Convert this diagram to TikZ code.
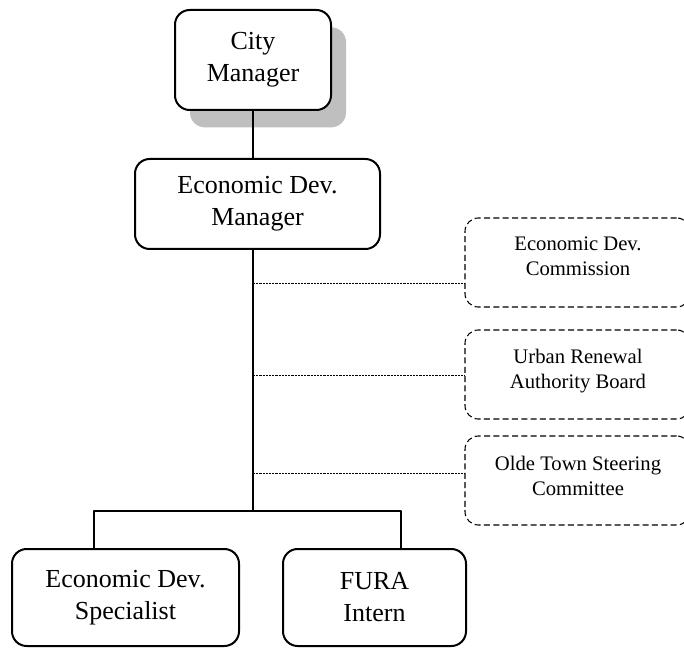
\documentclass[tikz,border=0pt]{standalone}
\usepackage{fontspec}
\setmainfont{Liberation Serif}
\usetikzlibrary{shadows}

\begin{document}
\begin{tikzpicture}[x=0.75pt, y=-0.75pt, line join=round,
    puesto/.style={draw, line width=1.5pt, rounded corners=11pt, align=center,
        fill=white, font=\fontsize{19.5}{24}\selectfont},
    comite/.style={draw, line width=0.8pt, dash pattern=on 4.5pt off 2.5pt,
        rounded corners=10pt, minimum width=168.75pt, minimum height=66.75pt},
    nota/.style={align=center, font=\fontsize{15.5}{18.5}\selectfont},
    enlace/.style={line width=1pt},
    apoyo/.style={line width=0.6pt, dash pattern=on 1.6pt off 0.8pt}]

    \clip (0,0) rectangle (684,648);

    % Puestos principales
    \node[puesto, minimum width=117pt, minimum height=75pt,
        drop shadow={shadow xshift=11.25pt, shadow yshift=-13pt, fill=black!25, opacity=1}]
        (cm) at (253,60) {City\\Manager};
    \node[puesto, minimum width=183.75pt, minimum height=67.5pt]
        (edm) at (257.5,204) {Economic Dev.\\Manager};

    % Comisiones y juntas (asesoras)
    \node[comite] (edc) at (577.5,262.5) {};
    \node[nota] (edct) at (578,256) {Economic Dev.\\Commission};
    \node[comite] (ura) at (577.5,374.5) {};
    \node[nota] (urat) at (578,371) {Urban Renewal\\Authority Board};
    \node[comite] (ots) at (577.5,480.5) {};
    \node[nota] (otst) at (578,476) {Olde Town Steering\\Committee};

    % Personal
    \node[puesto, minimum width=170.25pt, minimum height=72.75pt]
        (eds) at (125.5,597.5) {Economic Dev.\\Specialist};
    \node[puesto, minimum width=137.25pt, minimum height=72.75pt]
        (fura) at (374.5,597.5) {FURA\\Intern};

    % Línea de mando
    \coordinate (bus) at (253,511);
    \coordinate (izq) at (94,511);
    \coordinate (der) at (401,511);
    \draw[enlace] (cm.south) -- (cm.south |- edm.north);
    \draw[enlace] (cm.south |- edm.south) -- (bus);
    \draw[enlace] (izq |- eds.north) -- (izq) -- (der) -- (der |- fura.north);

    % Enlaces punteados a las comisiones
    \coordinate (d1) at (253,283);
    \coordinate (d2) at (253,375);
    \coordinate (d3) at (253,473);
    \draw[apoyo] (d1) -- (d1 -| edc.west);
    \draw[apoyo] (d2) -- (d2 -| ura.west);
    \draw[apoyo] (d3) -- (d3 -| ots.west);

\end{tikzpicture}
\end{document}
